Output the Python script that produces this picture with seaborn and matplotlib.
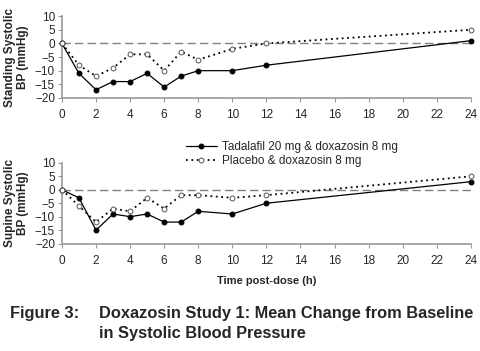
import pandas as pd
import seaborn as sns
import matplotlib.pyplot as plt

hours = [0, 1, 2, 3, 4, 5, 6, 7, 8, 10, 12, 24]
stand_tad = [0, -11, -17, -14, -14, -11, -16, -12, -10, -10, -8, 1]
stand_pla = [0, -8, -12, -9, -4, -4, -10, -3, -6, -2, 0, 5]
sup_tad = [0, -3, -15, -9, -10, -9, -12, -12, -8, -9, -5, 3]
sup_pla = [0, -6, -12, -7, -8, -3, -7, -2, -2, -3, -2, 5]

lab_tad = "Tadalafil 20 mg & doxazosin 8 mg"
lab_pla = "Placebo & doxazosin 8 mg"

sns.set_style("white")
plt.rcParams['font.family'] = ['Liberation Sans', 'DejaVu Sans']

fig = plt.figure(figsize=(4.8, 3.51), dpi=100)
ax1 = fig.add_axes([0.129, 0.721, 0.852, 0.233])
ax2 = fig.add_axes([0.129, 0.306, 0.852, 0.230])

def panel(ax, tad, pla, ylabel):
    df = pd.DataFrame({"hour": hours, "tad": tad, "pla": pla})
    ax.axhline(0, color="#808080", lw=1, ls=(0, (6, 3)), zorder=1)
    sns.lineplot(data=df, x="hour", y="tad", ax=ax, color="black", lw=0.9,
                 marker="o", markersize=3.5, markerfacecolor="black",
                 markeredgecolor="black", label=lab_tad, clip_on=False, zorder=3)
    sns.lineplot(data=df, x="hour", y="pla", ax=ax, color="black", lw=1.3,
                 ls=(0, (1, 2)), marker="o", markersize=3.5,
                 markerfacecolor="white", markeredgecolor="#555555",
                 markeredgewidth=0.7, label=lab_pla, clip_on=False, zorder=3)
    ax.set_xlim(0, 24)
    ax.set_ylim(-20, 10)
    ax.set_xticks(range(0, 25, 2))
    ax.set_yticks(range(-20, 11, 5))
    for s in ["top", "right"]:
        ax.spines[s].set_visible(False)
    for s in ["left", "bottom"]:
        ax.spines[s].set_color("#9a9a9a")
        ax.spines[s].set_linewidth(1.2)
    ax.tick_params(axis="both", direction="out", length=3, width=0.8,
                   color="#9a9a9a", labelsize=8.5, pad=2, left=True, bottom=True)
    ax.tick_params(axis="x", pad=5)
    ax.set_xlabel("")
    ax.set_ylabel(ylabel, fontsize=8.5, fontweight="bold", labelpad=4,
                  linespacing=1.1)
    ax.get_legend().remove()

panel(ax1, stand_tad, stand_pla, "Standing Systolic\nBP (mmHg)")
panel(ax2, sup_tad, sup_pla, "Supine Systolic\nBP (mmHg)")

ax2.set_xlabel("Time post-dose (h)", fontsize=8, fontweight="bold", labelpad=7)

handles, labels = ax2.get_legend_handles_labels()
fig.legend(handles, labels, loc="upper left", bbox_to_anchor=(0.375, 0.615),
           frameon=False, fontsize=8.5, handlelength=2.6, handletextpad=0.5,
           labelspacing=0.15, borderpad=0)

fig.text(0.02, 0.128, "Figure 3:", fontsize=11.8, fontweight="bold", va="top")
fig.text(0.207, 0.128, "Doxazosin Study 1: Mean Change from Baseline\nin Systolic Blood Pressure",
         fontsize=11.8, fontweight="bold", linespacing=1.4, va="top")

fig.savefig("out.png", dpi=100)
